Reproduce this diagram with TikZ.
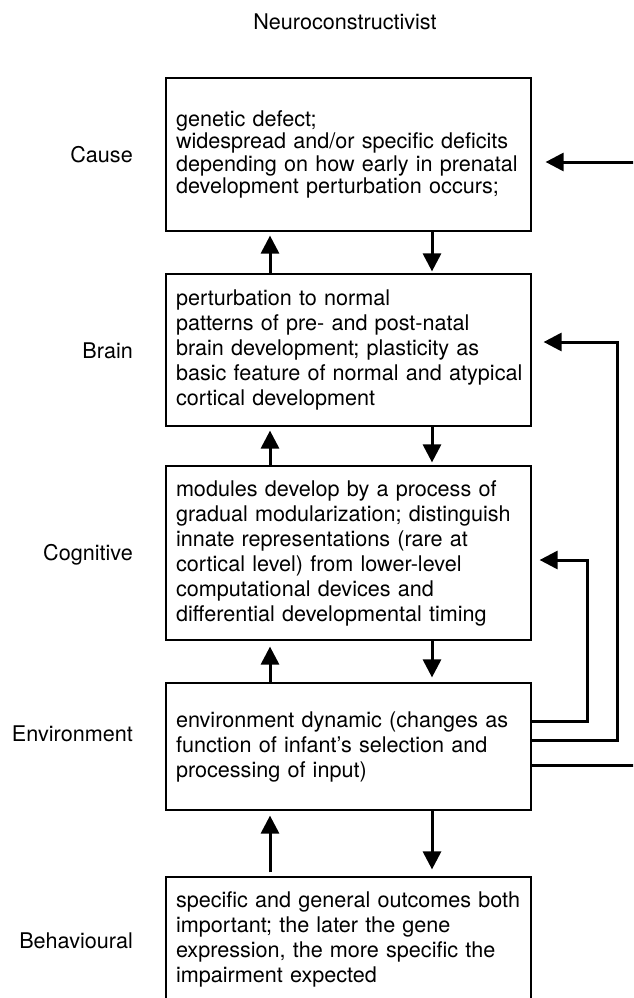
\documentclass[tikz,border=0pt]{standalone}
\usepackage{fontspec}
\setmainfont{TeX Gyre Heros}
\usetikzlibrary{arrows.meta}

\tikzset{
  level/.style={draw=black, line width=1.2pt, minimum width=365pt,
    text width=360pt, inner xsep=2.5pt, inner ysep=0pt, align=left,
    execute at begin node={\leftskip=7.5pt\relax},
    font=\fontsize{21.6}{25}\selectfont},
  rowlabel/.style={anchor=base east, inner sep=0pt,
    font=\fontsize{21.6}{25}\selectfont},
  flow/.style={line width=3pt, -{Triangle[length=18pt,width=18pt]}},
}

\begin{document}
\begin{tikzpicture}[x=1pt, y=-1pt]
  \useasboundingbox (0,0) rectangle (633,998);
  \fill[white] (0,0) rectangle (633,998);
  \clip (0,0) rectangle (633,998);

  % title
  \node[anchor=base, inner sep=0pt, font=\fontsize{21.6}{25}\selectfont]
    (title) at (345,30) {Neuroconstructivist};

  % levels of explanation
  \node[level, minimum height=153pt, font=\fontsize{21.6}{22.5}\selectfont]
    (b1) at (348.5,154.5)
    {genetic defect;\\
     widespread and/or specific deficits\\
     depending on how early in prenatal\\
     development perturbation occurs;};
  \node[level, minimum height=152pt] (b2) at (348.5,350)
    {perturbation to normal\\
     patterns of pre- and post-natal\\
     brain development; plasticity as\\
     basic feature of normal and atypical\\
     cortical development};
  \node[level, minimum height=174pt] (b3) at (348.5,553)
    {modules develop by a process of\\
     gradual modularization; distinguish\\
     innate representations (rare at\\
     cortical level) from lower-level\\
     computational devices and\\
     differential developmental timing};
  \node[level, minimum height=127pt] (b4) at (348.5,746.5)
    {environment dynamic (changes as\\
     function of infant’s selection and\\
     processing of input)};
  \node[level, minimum height=124pt] (b5) at (348.5,939)
    {specific and general outcomes both\\
     important; the later the gene\\
     expression, the more specific the\\
     impairment expected};

  % row labels
  \node[rowlabel] (l1) at (133,162) {Cause};
  \node[rowlabel] (l2) at (133,358) {Brain};
  \node[rowlabel] (l3) at (133,560) {Cognitive};
  \node[rowlabel] (l4) at (133,741) {Environment};
  \node[rowlabel] (l5) at (133,948) {Behavioural};

  % columns of the vertical arrows
  \coordinate (ux) at (270,0);
  \coordinate (dx) at (432,0);

  % upward arrows
  \draw[flow, shorten >=4pt] (b2.north -| ux) -- (b1.south -| ux);
  \draw[flow, shorten >=4pt] (b3.north -| ux) -- (b2.south -| ux);
  \draw[flow, shorten >=6pt] (b4.north -| ux) -- (b3.south -| ux);
  \draw[flow, shorten >=5pt, shorten <=4pt] (b5.north -| ux) -- (b4.south -| ux);

  % downward arrows
  \draw[flow, shorten >=2pt] (b1.south -| dx) -- (b2.north -| dx);
  \draw[flow, shorten >=3pt] (b2.south -| dx) -- (b3.north -| dx);
  \draw[flow, shorten >=5pt] (b3.south -| dx) -- (b4.north -| dx);
  \draw[flow, shorten >=7pt] (b4.south -| dx) -- (b5.north -| dx);

  % feedback from the environment
  \draw[flow, shorten >=8pt]
    ([yshift=25.5pt]b4.east) -| (587,560) -- ([yshift=-7pt]b3.east);
  \draw[flow, shorten >=12pt]
    ([yshift=6.5pt]b4.east) -| (617,342) -- ([yshift=8pt]b2.east);
  \draw[flow, shorten >=14pt]
    ([yshift=-18.5pt]b4.east) -| (660,162) -- ([yshift=-7.5pt]b1.east);
\end{tikzpicture}
\end{document}
